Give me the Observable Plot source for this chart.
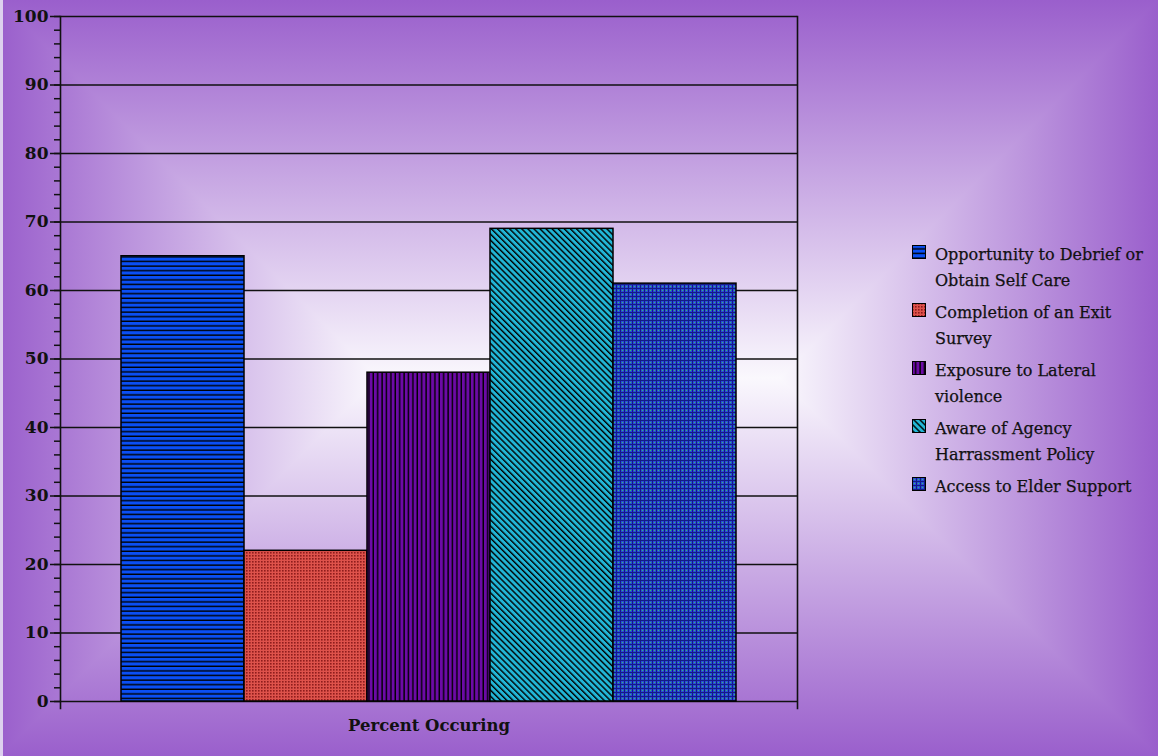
<!DOCTYPE html>
<html>
<head>
<meta charset="utf-8">
<script src="https://cdn.jsdelivr.net/npm/d3@7"></script>
<script src="https://cdn.jsdelivr.net/npm/@observablehq/plot@0.6"></script>
<style>
  html, body { margin: 0; padding: 0; }
  #chart {
    position: relative;
    width: 1158px;
    height: 756px;
    overflow: hidden;
    /* rectangular "from centre" gradient: darker of a horizontal and a vertical ramp */
    background:
      linear-gradient(to right, #9a5fcc 0px, #faf8fd 378px, #faf8fd 780px, #9a5fcc 1158px),
      linear-gradient(to bottom, #9a5fcc 0%, #faf8fd 50%, #9a5fcc 100%);
    background-blend-mode: darken;
    box-shadow: inset 3px 0 0 #ddd0ee;
    font-family: "DejaVu Serif", serif;
  }
  #plot { position: absolute; left: 0; top: 0; }
  #legend {
    position: absolute;
    left: 912px;
    top: 242px;
  }
  .item { display: flex; align-items: flex-start; margin-bottom: 6px; }
  .swatch { width: 14px; height: 14px; margin-top: 3px; flex: none; }
  .label {
    margin-left: 9px;
    width: 215px;
    font-size: 16px;
    line-height: 26px;
    color: #111;
    -webkit-text-stroke: 0.25px #111;
  }
  #defs { position: absolute; width: 0; height: 0; }
</style>
</head>
<body>
<svg id="defs" aria-hidden="true">
  <defs>
    <pattern id="pat-hstripe" width="8" height="4.6" patternUnits="userSpaceOnUse">
      <rect width="8" height="4.6" fill="#0a4ff5"/>
      <rect y="3.2" width="8" height="1.4" fill="#000"/>
    </pattern>
    <pattern id="pat-check" width="3" height="3" patternUnits="userSpaceOnUse">
      <rect width="3" height="3" fill="#de524b"/>
      <rect width="1.6" height="1.6" fill="#8f1c1c"/>
    </pattern>
    <pattern id="pat-vstripe" width="4.4" height="8" patternUnits="userSpaceOnUse">
      <rect width="4.4" height="8" fill="#6c0aa6"/>
      <rect x="3" width="1.4" height="8" fill="#000"/>
    </pattern>
    <pattern id="pat-diag" width="8" height="4.3" patternUnits="userSpaceOnUse" patternTransform="rotate(45)">
      <rect width="8" height="4.3" fill="#22b6d6"/>
      <rect y="2.9" width="8" height="1.4" fill="#000"/>
    </pattern>
    <pattern id="pat-plaid" width="4" height="4" patternUnits="userSpaceOnUse">
      <rect width="4" height="4" fill="#2a4ad8"/>
      <rect x="0" y="0" width="4" height="1" fill="#141c86"/>
      <rect x="0" y="0" width="1" height="4" fill="#141c86"/>
      <rect x="2" y="2" width="1" height="1" fill="#34c866"/>
    </pattern>
  </defs>
</svg>
<div id="chart">
  <div id="plot"></div>
  <div id="legend"></div>
</div>
<script>
// Survey results: share of respondents, one bar per item
const group = "Percent Occuring";
const series = [
  "Opportunity to Debrief or Obtain Self Care",
  "Completion of an Exit Survey",
  "Exposure to Lateral violence",
  "Aware of Agency Harrassment Policy",
  "Access to Elder Support"
];
const values = [65, 22, 48, 69, 61];
const yMajorTicks = [0, 10, 20, 30, 40, 50, 60, 70, 80, 90, 100];
const yMinorTicks = d3.range(0, 101, 2);

// hatch fills for each series
const fills = ["url(#pat-hstripe)", "url(#pat-check)", "url(#pat-vstripe)", "url(#pat-diag)", "url(#pat-plaid)"];

const data = series.map((s, i) => ({group, series: s, value: values[i]}));

const plot = Plot.plot({
  width: 820,
  height: 756,
  marginLeft: 60,
  marginRight: 23,
  marginTop: 16,
  marginBottom: 55,
  style: {background: "transparent", fontFamily: "DejaVu Serif, serif", overflow: "visible"},
  fx: {domain: [group], padding: 0, label: null, axis: null},
  x: {domain: series, paddingInner: 0, paddingOuter: 0.49, axis: null},
  y: {domain: [0, 100], axis: null, label: null},
  color: {domain: series, range: fills},
  marks: [
    Plot.ruleY(yMajorTicks, {stroke: "#111", strokeWidth: 1.6}),
    Plot.barY(data, {fx: "group", x: "series", y: "value", fill: "series", stroke: "#000", strokeWidth: 1.5}),
    Plot.frame({anchor: "left", stroke: "#111", strokeWidth: 1.6, insetBottom: -7}),
    Plot.frame({anchor: "right", stroke: "#111", strokeWidth: 1.6, insetBottom: -7}),
    Plot.axisY({ticks: yMinorTicks, tickSize: 6, text: null, label: null, stroke: "#111", strokeWidth: 1.5}),
    Plot.axisY({ticks: yMajorTicks, tickSize: 10, tickPadding: 2, label: null, stroke: "#111", strokeWidth: 1.5,
      fontSize: 17, fontWeight: "bold", fill: "#111"}),
    Plot.axisFx({anchor: "bottom", tickSize: 0, tickPadding: 18, fontSize: 16.5, fontWeight: "bold", fill: "#111", label: null})
  ]
});
document.getElementById("plot").appendChild(plot);

// legend: hatch swatch + wrapped label per series
const legend = d3.select("#legend");
series.forEach((s, i) => {
  const item = legend.append("div").attr("class", "item");
  const sw = item.append("svg").attr("class", "swatch").attr("width", 14).attr("height", 14);
  sw.append("rect").attr("x", 0.5).attr("y", 0.5).attr("width", 13).attr("height", 13)
    .attr("fill", fills[i]).attr("stroke", "#000").attr("stroke-width", 1);
  item.append("div").attr("class", "label").text(s);
});
</script>
</body>
</html>
